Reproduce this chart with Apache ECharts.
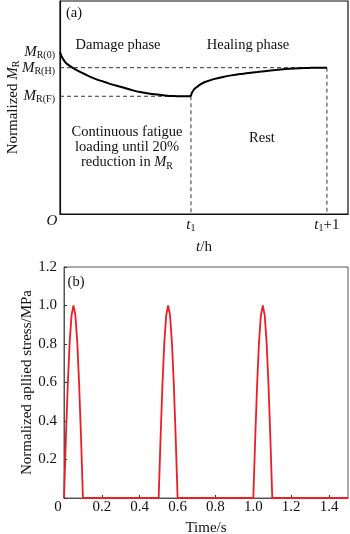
<!DOCTYPE html>
<html><head><meta charset="utf-8">
<script src="https://cdn.jsdelivr.net/npm/echarts@6/dist/echarts.min.js"></script>
<style>html,body{margin:0;padding:0;background:#fff}#c{width:350px;height:534px}</style>
</head><body><div id="c"></div>
<script>
// ---------- Panel (a): schematic of normalized MR ----------
const damageT  = [0, 0.007, 0.015, 0.03, 0.044, 0.07, 0.096, 0.14, 0.184, 0.26, 0.346, 0.41, 0.478, 0.53, 0.588, 0.65, 0.713, 0.77, 0.831, 0.9, 0.963];
const damageMR = [1.0, 0.988, 0.977, 0.962, 0.951, 0.939, 0.928, 0.913, 0.900, 0.879, 0.861, 0.849, 0.838, 0.828, 0.819, 0.813, 0.808, 0.804, 0.801, 0.800, 0.800];
const healT    = [0.963, 0.968, 0.978, 0.99, 1.007, 1.035, 1.066, 1.13, 1.199, 1.26, 1.324, 1.39, 1.449, 1.52, 1.581, 1.64, 1.691, 1.76, 1.838, 1.9, 1.963];
const healMR   = [0.800, 0.813, 0.824, 0.834, 0.842, 0.855, 0.865, 0.878, 0.888, 0.895, 0.901, 0.906, 0.910, 0.915, 0.919, 0.923, 0.925, 0.927, 0.929, 0.930, 0.930];
const levelValues = [1.0, 0.93, 0.8];            // MR(0), MR(H), MR(F)
const levelLabels = ['R(0)', 'R(H)', 'R(F)'];
const timeTicks  = [0, 0.963, 1.963];           // O, t1, t1+1
const timeLabels = ['{o|O}', '{i|t}{s|1}', '{i|t}{s|1}{n|+1}'];

// ---------- Panel (b): normalized applied stress ----------
const timeS  = [0, 0.01, 0.02, 0.03, 0.04, 0.05, 0.06, 0.07, 0.08, 0.09, 0.10,
                0.50, 0.51, 0.52, 0.53, 0.54, 0.55, 0.56, 0.57, 0.58, 0.59, 0.60,
                1.00, 1.01, 1.02, 1.03, 1.04, 1.05, 1.06, 1.07, 1.08, 1.09, 1.10, 1.50];
const stress = [0, 0.31, 0.59, 0.81, 0.95, 1.0, 0.95, 0.81, 0.59, 0.31, 0,
                0, 0.31, 0.59, 0.81, 0.95, 1.0, 0.95, 0.81, 0.59, 0.31, 0,
                0, 0.31, 0.59, 0.81, 0.95, 1.0, 0.95, 0.81, 0.59, 0.31, 0, 0];

const A_MIN = 0.265, A_MAX = 1.233, A_XMAX = 2.118;
const FF = 'Liberation Serif';
const zip = (a, b) => a.map((v, i) => [v, b[i]]);

const dashStyle = { color: '#333', width: 1, type: [4, 3] };
function dashSeries(data) {
  return { type: 'line', xAxisIndex: 0, yAxisIndex: 0, data, symbol: 'none',
           lineStyle: dashStyle, silent: true, z: 1 };
}
const subRich = {
  m: { fontStyle: 'italic', fontFamily: FF, fontSize: 15, lineHeight: 10 },
  i: { fontStyle: 'italic', fontFamily: FF, fontSize: 15, lineHeight: 10 },
  n: { fontFamily: FF, fontSize: 15, lineHeight: 10 },
  s: { fontFamily: FF, fontSize: 10, lineHeight: 6, padding: [7, 0, 0, 0] }
};
const levelFmt = (v) => { const k = levelValues.indexOf(v); return k < 0 ? '' : '{m|M}{s|' + levelLabels[k] + '}'; };
function levelAxis(vals, withLine) {
  return { type: 'value', gridIndex: 0, position: 'left', min: A_MIN, max: A_MAX,
    nameMoveOverlap: false,
    axisLine: { show: withLine, onZero: false, lineStyle: { color: '#111', width: 1.2 } },
    axisTick: { show: false }, splitLine: { show: false },
    axisLabel: { customValues: vals, margin: 5, color: '#111', hideOverlap: false,
      showMinLabel: true, showMaxLabel: true, formatter: levelFmt, rich: subRich } };
}

const chart = echarts.init(document.getElementById('c'), null, { renderer: 'canvas' });
chart.setOption({
  animation: false,
  backgroundColor: '#fff',
  textStyle: { fontFamily: FF, color: '#111' },
  grid: [
    { left: 60, top: 1, width: 288, height: 213, show: true, borderColor: '#111', borderWidth: 1.2,
      containLabel: false, outerBoundsMode: 'none' },
    { left: 64, top: 267, width: 284, height: 231, show: true, borderColor: '#555', borderWidth: 1,
      containLabel: false, outerBoundsMode: 'none' }
  ],
  xAxis: [
    { type: 'value', gridIndex: 0, min: 0, max: A_XMAX,
      name: '{i|t}/h', nameLocation: 'middle', nameGap: 25.5, nameMoveOverlap: false,
      nameTextStyle: { fontFamily: FF, fontSize: 15, color: '#111',
        rich: { i: { fontStyle: 'italic', fontFamily: FF, fontSize: 15 } } },
      axisLine: { lineStyle: { color: '#111', width: 1.2 } },
      axisTick: { show: false }, splitLine: { show: false },
      axisLabel: { customValues: timeTicks, margin: 6, color: '#111', hideOverlap: false,
        formatter: (v) => timeLabels[timeTicks.indexOf(v)] || '',
        rich: Object.assign({
          o: { fontStyle: 'italic', fontFamily: FF, fontSize: 15, lineHeight: 3, padding: [0, 16, 0, 0] }
        }, subRich) } },
    { type: 'value', gridIndex: 1, min: 0, max: 1.5, interval: 0.2,
      name: 'Time/s', nameLocation: 'middle', nameGap: 22.5, nameMoveOverlap: false,
      nameTextStyle: { fontFamily: FF, fontSize: 15, color: '#111' },
      axisLine: { lineStyle: { color: '#555', width: 1 } },
      axisTick: { inside: true, length: 3, lineStyle: { color: '#333' } },
      splitLine: { show: false },
      axisLabel: { margin: 2, fontSize: 15, fontFamily: FF, color: '#111', showMaxLabel: false,
        formatter: (v) => v === 0 ? '{z|0}' : v.toFixed(1),
        rich: { z: { fontFamily: FF, fontSize: 15, padding: [0, 12, 0, 0] } } } }
  ],
  yAxis: [
    Object.assign(levelAxis([levelValues[0], levelValues[2]], true), {
      name: 'Normalized {m|M}{s|R}', nameLocation: 'middle', nameGap: 39.5,
      nameTextStyle: { fontFamily: FF, fontSize: 15, color: '#111', rich: subRich } }),
    { type: 'value', gridIndex: 1, min: 0, max: 1.2, interval: 0.2,
      name: 'Normalized apllied stress/MPa', nameLocation: 'middle', nameGap: 29.5, nameMoveOverlap: false,
      nameTextStyle: { fontFamily: FF, fontSize: 15, color: '#111' },
      axisLine: { lineStyle: { color: '#555', width: 1 } },
      axisTick: { inside: true, length: 3, lineStyle: { color: '#333' } },
      splitLine: { show: false },
      axisLabel: { margin: 7, fontSize: 15, fontFamily: FF, color: '#111',
        formatter: (v) => v === 0 ? '' : v.toFixed(1) } },
    levelAxis([levelValues[1]], false)
  ],
  series: [
    dashSeries([[0, levelValues[1]], [timeTicks[2], levelValues[1]]]),
    dashSeries([[0, levelValues[2]], [timeTicks[1], levelValues[2]]]),
    dashSeries([[timeTicks[1], levelValues[2]], [timeTicks[1], A_MIN]]),
    dashSeries([[timeTicks[2], levelValues[1]], [timeTicks[2], A_MIN]]),
    { type: 'line', xAxisIndex: 0, yAxisIndex: 0, data: zip(damageT, damageMR), symbol: 'none',
      smooth: 0.3, lineStyle: { color: '#000', width: 2 }, z: 3 },
    { type: 'line', xAxisIndex: 0, yAxisIndex: 0, data: zip(healT, healMR), symbol: 'none',
      smooth: 0.3, lineStyle: { color: '#000', width: 2 }, z: 3 },
    { type: 'line', xAxisIndex: 1, yAxisIndex: 1, data: zip(timeS, stress), symbol: 'none',
      lineStyle: { color: '#ee1c25', width: 1.8 }, z: 3 }
  ],
  graphic: [
    { type: 'text', x: 74, y: 13, style: { text: '(a)', fontFamily: FF, fontSize: 14.5, fill: '#111', align: 'center', verticalAlign: 'middle' } },
    { type: 'text', x: 118, y: 45, style: { text: 'Damage phase', fontFamily: FF, fontSize: 14.5, fill: '#111', align: 'center', verticalAlign: 'middle' } },
    { type: 'text', x: 248, y: 45, style: { text: 'Healing phase', fontFamily: FF, fontSize: 14.5, fill: '#111', align: 'center', verticalAlign: 'middle' } },
    { type: 'text', x: 127, y: 147, style: {
        text: '{n|Continuous fatigue}\n{n|loading until 20%}\n{n|reduction in }{m|M}{s|R}',
        fontFamily: FF, fontSize: 14.5, fill: '#111', align: 'center', verticalAlign: 'middle',
        rich: { n: { fontFamily: FF, fontSize: 14.5, lineHeight: 15 },
                m: { fontFamily: FF, fontStyle: 'italic', fontSize: 14.5, lineHeight: 15 },
                s: { fontFamily: FF, fontSize: 10, lineHeight: 10, padding: [8, 0, 0, 0] } } } },
    { type: 'text', x: 262, y: 138, style: { text: 'Rest', fontFamily: FF, fontSize: 14.5, fill: '#111', align: 'center', verticalAlign: 'middle' } },
    { type: 'text', x: 76, y: 282, style: { text: '(b)', fontFamily: FF, fontSize: 14.5, fill: '#111', align: 'center', verticalAlign: 'middle' } }
  ]
});
</script></body></html>
